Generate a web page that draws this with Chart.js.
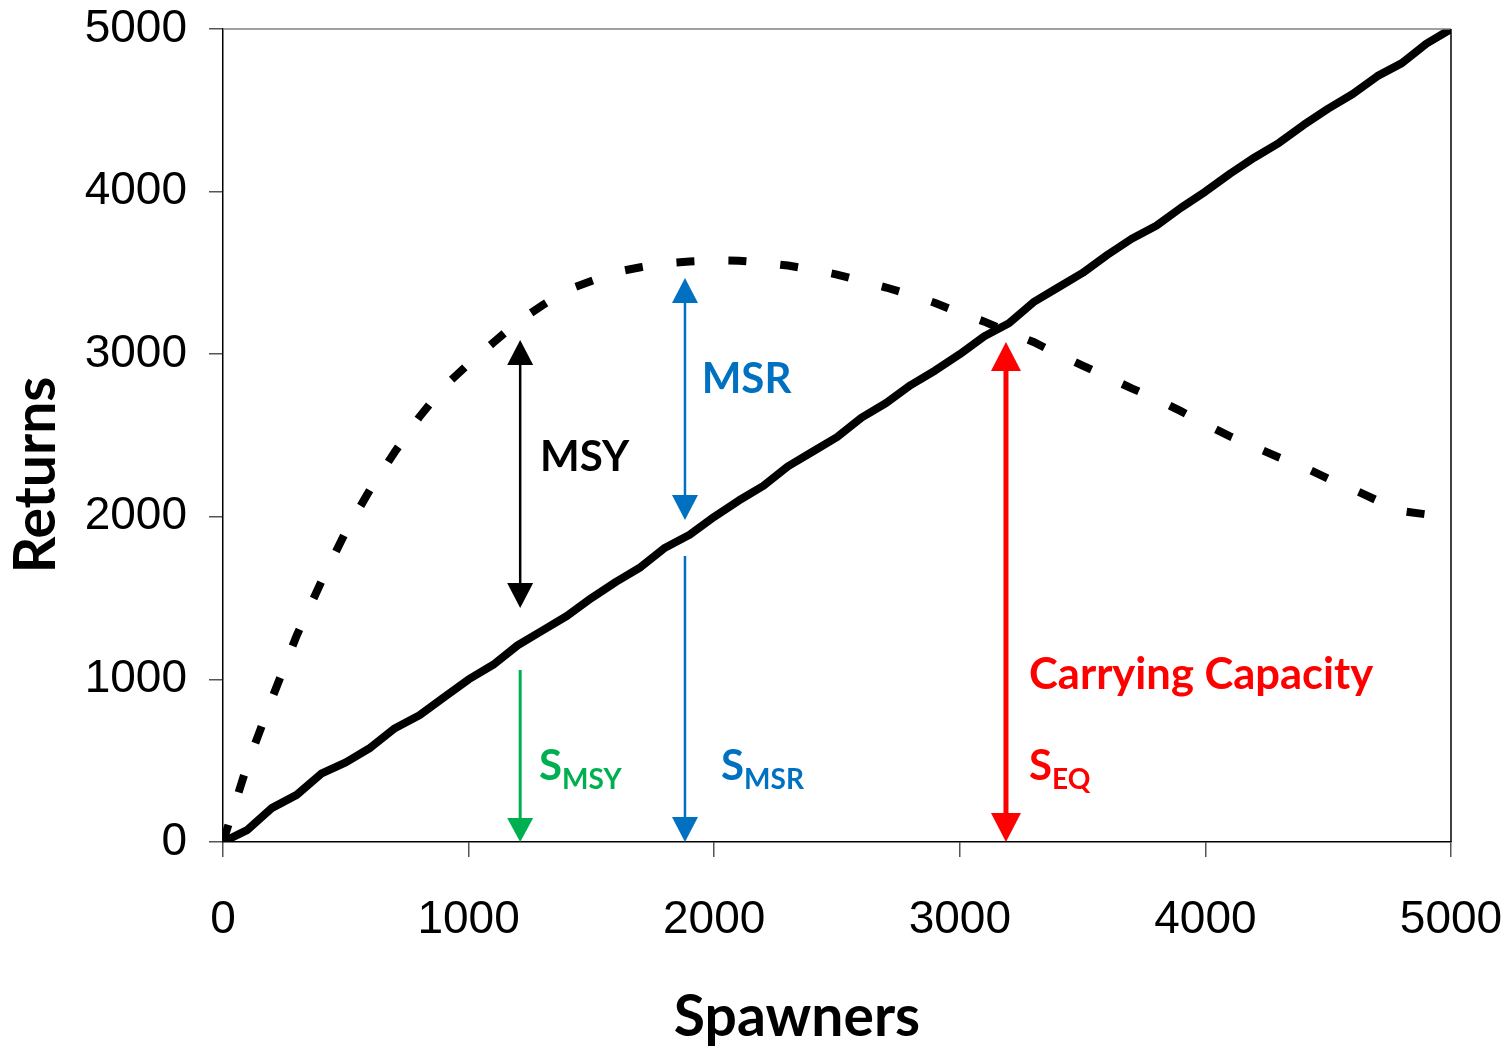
<!DOCTYPE html>
<html>
<head>
<meta charset="utf-8">
<script src="https://cdn.jsdelivr.net/npm/chart.js@4/dist/chart.umd.min.js"></script>
<style>
  html, body { margin: 0; padding: 0; background: #fff; }
  #wrap { width: 1510px; height: 1048px; position: relative; }
</style>
</head>
<body>
<div id="wrap"><canvas id="c" width="1510" height="1048"></canvas></div>
<script>
// ---- Data ----
const spawners = [0,100,200,300,400,500,600,700,800,900,1000,1100,1200,1300,1400,1500,1600,1700,1800,1900,2000,2100,2200,2300,2400,2500,2600,2700,2800,2900,3000,3100,3200,3300,3400,3500,3600,3700,3800,3900,4000,4100,4200,4300,4400,4500,4600,4700,4800,4900,5000];
const replacementReturns = [0,75,210,290,420,490,580,700,780,890,1000,1090,1210,1300,1390,1500,1600,1690,1810,1890,2000,2100,2190,2310,2400,2490,2610,2700,2810,2900,3000,3110,3190,3320,3410,3500,3610,3710,3790,3900,4000,4110,4210,4300,4410,4510,4600,4710,4790,4910,5000];
const recruitReturns = [0,480,885,1270,1600,1910,2170,2400,2615,2800,2940,3070,3200,3300,3395,3450,3505,3535,3560,3570,3577,3575,3563,3545,3520,3490,3450,3410,3365,3315,3255,3200,3135,3075,3000,2930,2860,2790,2725,2650,2570,2495,2430,2365,2305,2235,2170,2100,2035,2015,2000];

const xTicks = [0,1000,2000,3000,4000,5000];
const yTicks = [0,1000,2000,3000,4000,5000];
const xTitle = 'Spawners';
const yTitle = 'Returns';

// Reference-point arrows (data coordinates): x, from y, to y, colour, heads
const arrowX     = [1210, 1210, 1881, 1881, 3188];
const arrowYTop  = [3087, 1058, 3469, 1759, 3075];
const arrowYBot  = [1439, 0,    1980, 0,    0];
const arrowColor = ['#000000', '#00B050', '#0070C0', '#0070C0', '#FF0000'];
const arrowTopHead = [true, false, true, false, true];
const arrowWidth = [2.5, 3, 2.5, 2.5, 5];
const arrowHeadW = [26, 26, 26, 26, 30];
const arrowHeadL = [25, 24, 25, 25, 29];

// Text labels (data coordinates of left/baseline)
const labelMain = ['MSY', 'MSR', 'Carrying Capacity', 'S', 'S', 'S'];
const labelSub  = ['', '', '', 'MSY', 'MSR', 'EQ'];
const labelX    = [1291, 1949, 3282, 1287, 2028, 3282];
const labelY    = [2282, 2761, 939, 382, 382, 382];
const labelSize = [42, 42, 43.5, 42, 42, 42];
const labelColor= ['#000000', '#0070C0', '#FF0000', '#00B050', '#0070C0', '#FF0000'];

const points = (ys) => spawners.map((s, i) => ({x: s, y: ys[i]}));

const decorPlugin = {
  id: 'decor',
  afterDatasetsDraw(chart) {
    const ctx = chart.ctx, xs = chart.scales.x, ys = chart.scales.y, ca = chart.chartArea;
    ctx.save();
    // frame: top (grey) and right (black)
    ctx.lineWidth = 1.5;
    ctx.strokeStyle = '#808080';
    ctx.beginPath(); ctx.moveTo(ca.left, ca.top); ctx.lineTo(ca.right, ca.top); ctx.stroke();
    ctx.strokeStyle = '#000';
    ctx.beginPath(); ctx.moveTo(ca.right, ca.top); ctx.lineTo(ca.right, ca.bottom); ctx.stroke();

    // arrows
    for (let i = 0; i < arrowX.length; i++) {
      const px = xs.getPixelForValue(arrowX[i]);
      const pTop = ys.getPixelForValue(arrowYTop[i]);
      const pBot = ys.getPixelForValue(arrowYBot[i]);
      const hw = arrowHeadW[i] / 2, hl = arrowHeadL[i];
      ctx.strokeStyle = arrowColor[i];
      ctx.fillStyle = arrowColor[i];
      ctx.lineWidth = arrowWidth[i];
      ctx.lineCap = 'butt';
      const lineTop = arrowTopHead[i] ? pTop + hl - 1 : pTop;
      ctx.beginPath(); ctx.moveTo(px, lineTop); ctx.lineTo(px, pBot - hl + 1); ctx.stroke();
      ctx.beginPath(); ctx.moveTo(px, pBot); ctx.lineTo(px - hw, pBot - hl); ctx.lineTo(px + hw, pBot - hl); ctx.closePath(); ctx.fill();
      if (arrowTopHead[i]) {
        ctx.beginPath(); ctx.moveTo(px, pTop); ctx.lineTo(px - hw, pTop + hl); ctx.lineTo(px + hw, pTop + hl); ctx.closePath(); ctx.fill();
      }
    }

    // labels
    ctx.textBaseline = 'alphabetic';
    ctx.textAlign = 'left';
    for (let i = 0; i < labelMain.length; i++) {
      const px = xs.getPixelForValue(labelX[i]);
      const py = ys.getPixelForValue(labelY[i]);
      ctx.fillStyle = labelColor[i];
      ctx.font = 'bold ' + labelSize[i] + 'px Lato';
      ctx.fillText(labelMain[i], px, py);
      if (labelSub[i]) {
        const w = ctx.measureText(labelMain[i]).width;
        ctx.font = 'bold 28px Lato';
        ctx.fillText(labelSub[i], px + w, py + 9);
      }
    }

    // axis titles
    ctx.fillStyle = '#000';
    ctx.font = 'bold 57px Lato';
    ctx.textAlign = 'center';
    ctx.textBaseline = 'middle';
    ctx.fillText(xTitle, 797, 1018);
    ctx.save();
    ctx.translate(37, 475);
    ctx.rotate(-Math.PI / 2);
    ctx.fillText(yTitle, 0, 0);
    ctx.restore();
    ctx.restore();
  }
};

const plain = (v) => String(v);

const chart = new Chart(document.getElementById('c'), {
  type: 'line',
  data: {
    datasets: [
      {
        label: 'Recruitment',
        data: points(recruitReturns),
        borderColor: '#000',
        borderWidth: 8,
        borderDash: [18, 34],
        borderCapStyle: 'butt',
        pointRadius: 0,
        tension: 0,
        fill: false
      },
      {
        label: 'Replacement',
        data: points(replacementReturns),
        borderColor: '#000',
        borderWidth: 8,
        borderJoinStyle: 'round',
        pointRadius: 0,
        tension: 0,
        fill: false
      }
    ]
  },
  options: {
    responsive: false,
    animation: false,
    events: [],
    layout: { padding: { top: 29, right: 59, left: 0, bottom: 0 } },
    plugins: { legend: { display: false }, tooltip: { enabled: false }, title: { display: false } },
    scales: {
      x: {
        type: 'linear', min: 0, max: 5000,
        afterBuildTicks: (s) => { s.ticks = xTicks.map(v => ({value: v})); },
        afterFit: (s) => { s.height = 206; s.paddingLeft = 0; s.paddingRight = 0; },
        ticks: { color: '#000', font: { family: 'Liberation Sans', size: 46 }, padding: 36, maxRotation: 0, autoSkip: false, callback: plain },
        grid: { drawOnChartArea: false, drawTicks: true, tickLength: 15, color: '#555', lineWidth: 1.5 },
        border: { color: '#000', width: 1.5 }
      },
      y: {
        type: 'linear', min: 0, max: 5000,
        afterBuildTicks: (s) => { s.ticks = yTicks.map(v => ({value: v})); },
        afterFit: (s) => { s.width = 223; s.paddingTop = 0; s.paddingBottom = 0; },
        ticks: { color: '#000', font: { family: 'Liberation Sans', size: 46 }, padding: 22, autoSkip: false, callback: plain },
        grid: { drawOnChartArea: false, drawTicks: true, tickLength: 14, color: '#555', lineWidth: 1.5 },
        border: { color: '#000', width: 1.5 }
      }
    }
  },
  plugins: [decorPlugin]
});
</script>
</body>
</html>
